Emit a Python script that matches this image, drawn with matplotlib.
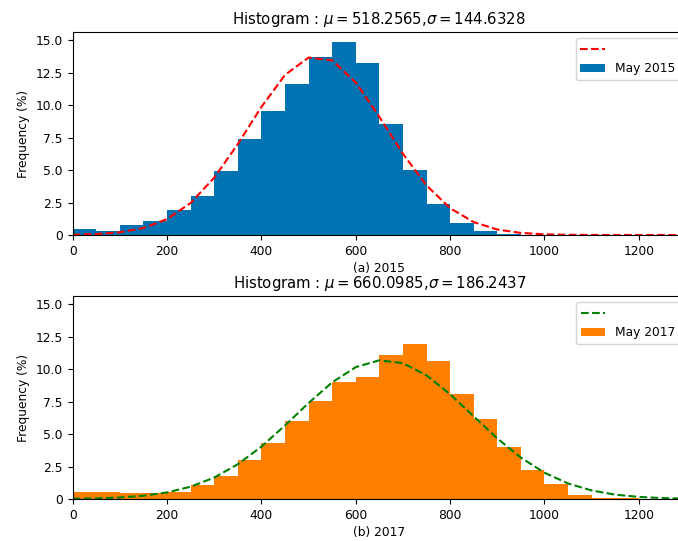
import numpy as np
import matplotlib
matplotlib.use("Agg")
import matplotlib.pyplot as plt
from matplotlib.ticker import FuncFormatter

# ---- data ----
bin_edges = np.arange(0, 1301, 50)          # 26 bins of width 50

freq_2015 = [0.46, 0.31, 0.75, 1.08, 1.93, 2.98, 4.97, 7.41, 9.57, 11.65,
             13.71, 14.90, 13.25, 8.52, 5.04, 2.42, 0.93, 0.33, 0.08, 0.03,
             0.03, 0.02, 0.02, 0.02, 0.02, 0.02]
freq_2017 = [0.57, 0.57, 0.49, 0.45, 0.52, 1.05, 1.75, 3.00, 4.30, 6.00,
             7.53, 9.00, 9.41, 11.08, 11.96, 10.64, 8.07, 6.13, 4.00, 2.24,
             1.16, 0.31, 0.10, 0.05, 0.03, 0.02]

mu_2015, sigma_2015 = 518.2565, 144.6328
mu_2017, sigma_2017 = 660.0985, 186.2437

series = [
    ("May 2015", freq_2015, mu_2015, sigma_2015, "#0173b2", "r", "(a) 2015"),
    ("May 2017", freq_2017, mu_2017, sigma_2017, "#ff8000", "g", "(b) 2017"),
]

yticks = [0, 2.5, 5.0, 7.5, 10.0, 12.5, 15.0]

# ---- figure ----
W, H = 678, 541
fig = plt.figure(figsize=(W / 100, H / 100), dpi=100)
left = 72.7 / W
width = (686 - 72.7) / W
ax_h = 203 / H
axes = [fig.add_axes([left, 1 - 235 / H, width, ax_h]),
        fig.add_axes([left, 1 - 499 / H, width, ax_h])]

fs = 8.8
binw = bin_edges[1] - bin_edges[0]
for ax, (lab, freq, mu, sd, col, lcol, xl) in zip(axes, series):
    bars = ax.bar(bin_edges[:-1], freq, width=binw, align="edge",
                  color=col, linewidth=0)
    pdf = np.exp(-0.5 * ((bin_edges - mu) / sd) ** 2) / (sd * np.sqrt(2 * np.pi))
    line, = ax.plot(bin_edges, pdf * binw * 100, "--", color=lcol, linewidth=1.5)
    ax.set_xlim(0, 1300)
    ax.set_ylim(0, 15.65)
    ax.set_yticks(yticks)
    ax.yaxis.set_major_formatter(FuncFormatter(lambda v, p: "0" if v == 0 else f"{v:.1f}"))
    ax.set_xticks([0, 200, 400, 600, 800, 1000, 1200])
    ax.tick_params(labelsize=fs)
    ax.set_ylabel("Frequency (%)", fontsize=fs)
    ax.set_xlabel(xl, fontsize=fs, labelpad=3)
    ax.set_title(r"Histogram : $\mu=%.4f$,$\sigma=%.4f$" % (mu, sd), fontsize=10.7)
    ax.legend([line, bars], ["", lab], loc="upper right", fontsize=fs)

fig.savefig("out.png", dpi=100)
